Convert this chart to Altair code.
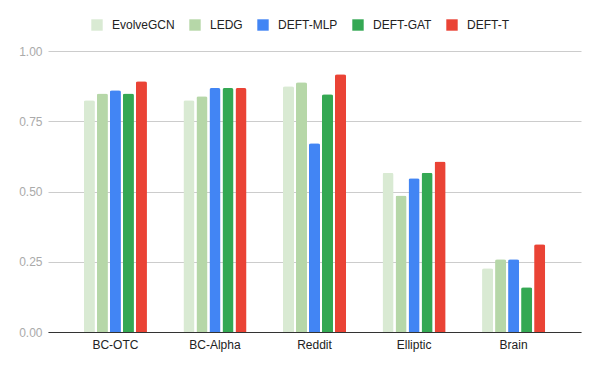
import altair as alt
import pandas as pd

datasets = ["BC-OTC", "BC-Alpha", "Reddit", "Elliptic", "Brain"]
models = ["EvolveGCN", "LEDG", "DEFT-MLP", "DEFT-GAT", "DEFT-T"]
colors = ["#d9ead3", "#b6d7a8", "#4285f4", "#34a853", "#ea4335"]

evolvegcn = [0.825, 0.825, 0.875, 0.567, 0.227]
ledg = [0.849, 0.839, 0.889, 0.486, 0.259]
deft_mlp = [0.860, 0.868, 0.672, 0.547, 0.259]
deft_gat = [0.849, 0.868, 0.846, 0.567, 0.159]
deft_t = [0.892, 0.868, 0.917, 0.607, 0.312]

series = [evolvegcn, ledg, deft_mlp, deft_gat, deft_t]
rows = []
for m, vals in zip(models, series):
    for d, v in zip(datasets, vals):
        rows.append({"dataset": d, "model": m, "value": v})
df = pd.DataFrame(rows)

FONT = "Liberation Sans"

bars = alt.Chart(df).mark_bar(
    cornerRadiusTopLeft=2, cornerRadiusTopRight=2
).encode(
    x=alt.X("dataset:N", sort=datasets, title=None,
            scale=alt.Scale(paddingInner=0.366, paddingOuter=0.36),
            axis=alt.Axis(labelAngle=0, ticks=False, domain=True, domainColor="#333333",
                          labelColor="#222222", labelFontSize=12, labelFont=FONT,
                          labelPadding=7, grid=False)),
    xOffset=alt.XOffset("model:N", sort=models,
                        scale=alt.Scale(paddingInner=0.15, paddingOuter=0)),
    y=alt.Y("value:Q", title=None,
            scale=alt.Scale(domain=[0, 1], nice=False),
            axis=alt.Axis(values=[0, 0.25, 0.5, 0.75, 1.0], format=".2f",
                          ticks=False, domain=False, gridColor="#cccccc",
                          labelColor="#aaaaaa", labelFontSize=12, labelFont=FONT,
                          labelPadding=6)),
    color=alt.Color("model:N", sort=models,
                    scale=alt.Scale(domain=models, range=colors),
                    legend=alt.Legend(orient="none", legendX=43, legendY=-32,
                                      direction="horizontal", title=None,
                                      symbolType="square", symbolSize=130,
                                      symbolStrokeWidth=0, labelFontSize=12,
                                      labelFont=FONT, labelColor="#222222",
                                      labelOffset=9, columnPadding=14, padding=0)),
)

chart = bars.properties(
    width=533, height=281,
    autosize=alt.AutoSizeParams(type="none"),
    padding={"left": 40, "top": 43, "right": 11, "bottom": 31},
).configure_view(stroke=None).configure_axis(labelFont=FONT)

chart.save("out.html", embed_options={"renderer": "svg", "actions": False})
